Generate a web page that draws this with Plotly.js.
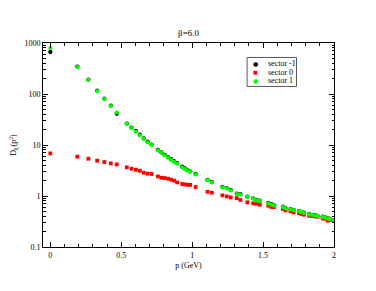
<!DOCTYPE html>
<html>
<head>
<meta charset="utf-8">
<script src="https://cdn.plot.ly/plotly-3.0.1.min.js"></script>
<style>html,body{margin:0;padding:0;background:#fff}#chart{width:376px;height:291px}</style>
</head>
<body>
<div id="chart"></div>
<script>
// momentum values p (GeV)
const p = [0, 0.19, 0.268, 0.33, 0.381, 0.426, 0.468, 0.539, 0.572, 0.603, 0.631, 0.659, 0.686, 0.714,
  0.758, 0.783, 0.806, 0.83, 0.852, 0.872, 0.894, 0.93, 0.948, 0.965, 0.986, 1.024, 1.108, 1.138,
  1.213, 1.244, 1.272, 1.314, 1.34, 1.389, 1.43, 1.453, 1.477, 1.536, 1.559, 1.578, 1.64, 1.658,
  1.693, 1.715, 1.753, 1.771, 1.788, 1.825, 1.847, 1.866, 1.884, 1.92, 1.936, 1.955, 1.972, 2.0];

const sectorM1 = [666, 345, 192, 116, 81, 59, 41, 26.3, 21.9, 18.8, 15.9, 13.5, 11.6, 10.2,
  8.0, 7.2, 6.4, 5.8, 5.25, 4.8, 4.4, 3.75, 3.48, 3.25, 3.05, 2.7, 2.08, 1.88,
  1.5, 1.43, 1.31, 1.11, 1.09, 0.97, 0.9, 0.84, 0.81, 0.73, 0.69, 0.655, 0.62, 0.58,
  0.555, 0.535, 0.505, 0.49, 0.47, 0.44, 0.428, 0.42, 0.408, 0.393, 0.379, 0.366, 0.356, 0.336];

const sector0 = [6.84, 5.9, 5.38, 4.92, 4.64, 4.36, 4.17, 3.64, 3.43, 3.28, 3.13, 2.86, 2.74, 2.70,
  2.42, 2.28, 2.25, 2.18, 2.09, 2.0, 1.85, 1.72, 1.69, 1.66, 1.65, 1.50, 1.21, 1.16,
  1.03, 0.98, 0.94, 0.91, 0.835, 0.75, 0.716, 0.706, 0.675, 0.645, 0.608, 0.608, 0.556, 0.523,
  0.50, 0.478, 0.464, 0.444, 0.43, 0.41, 0.405, 0.398, 0.393, 0.364, 0.359, 0.328, 0.339, 0.328];

const sector1 = [794, 338, 188, 114, 80, 58, 43, 25.8, 21.5, 18.3, 15.5, 13.1, 11.3, 10.0,
  7.8, 7.0, 6.25, 5.65, 5.1, 4.65, 4.3, 3.65, 3.38, 3.18, 2.99, 2.65, 2.04, 1.85,
  1.48, 1.41, 1.29, 1.09, 1.06, 0.955, 0.885, 0.82, 0.80, 0.716, 0.676, 0.645, 0.61, 0.57,
  0.546, 0.53, 0.50, 0.486, 0.464, 0.436, 0.424, 0.417, 0.405, 0.39, 0.376, 0.364, 0.354, 0.333];

const seriesNames = ['sector -1', 'sector 0', 'sector 1'];
const seriesColors = ['#000000', '#ff0000', '#00ff00'];
const seriesSymbols = ['circle', 'square', 'circle'];
const seriesGlyphs = ['\u25CF', '\u25A0', '\u25CF'];
const xTickVals = [0, 0.5, 1, 1.5, 2];
const xTickText = ['0', '0.5', '1', '1.5', '2'];
const yTickVals = [0.1, 1, 10, 100, 1000];
const yTickText = ['0.1', '1', '10', '100', '1000'];

const FONT = 'Liberation Serif, Times New Roman, serif';
const ys = [sectorM1, sector0, sector1];

const traces = ys.map((y, i) => ({
  type: 'scatter', mode: 'markers', x: p, y: y, name: seriesNames[i],
  marker: {color: seriesColors[i], symbol: seriesSymbols[i], size: seriesSymbols[i] === 'square' ? 3.8 : 4.3, line: {width: 0}},
  showlegend: false, hoverinfo: 'skip'
}));
// invisible trace to drive minor log ticks axis
traces.push({type: 'scatter', mode: 'markers', x: [p[0]], y: [sector1[0]], xaxis: 'x', yaxis: 'y2',
  marker: {opacity: 0}, showlegend: false, hoverinfo: 'skip'});

const legRows = [0.8999, 0.8576, 0.815];
const annotations = [];
seriesNames.forEach((n, i) => {
  annotations.push({xref: 'paper', yref: 'paper', x: 0.7315, y: legRows[i], text: seriesGlyphs[i],
    showarrow: false, xanchor: 'center', yanchor: 'middle',
    font: {family: 'DejaVu Sans', size: i === 1 ? 5 : 6, color: seriesColors[i]}});
  annotations.push({xref: 'paper', yref: 'paper', x: 0.7659, y: legRows[i], text: n,
    showarrow: false, xanchor: 'left', yanchor: 'middle',
    font: {family: FONT, size: 8, color: '#000'}});
});

const layout = {
  width: 376, height: 291,
  margin: {l: 43.3, r: 42.3, t: 43.3, b: 44, pad: 0},
  paper_bgcolor: '#fff', plot_bgcolor: '#fff',
  font: {family: FONT, size: 8, color: '#000'},
  title: {text: '\u03B2=6.0', x: 0.5, xref: 'paper', y: 1 - 33/291, yref: 'container', yanchor: 'middle', xanchor: 'center',
    font: {family: FONT, size: 9, color: '#000'}},
  showlegend: false,
  xaxis: {
    range: [-0.052, 2], showgrid: false, zeroline: false,
    showline: true, linecolor: '#000', linewidth: 1, mirror: 'ticks',
    ticks: 'inside', ticklen: 5, tickcolor: '#000', tickwidth: 1,
    tickvals: xTickVals, ticktext: xTickText, tickfont: {family: FONT, size: 8},
    minor: {dtick: 0.1, tick0: 0, ticks: 'inside', ticklen: 3, tickcolor: '#000', showgrid: false},
    title: {text: 'p (GeV)', font: {family: FONT, size: 8}, standoff: 3},
    automargin: false
  },
  yaxis: {
    type: 'log', range: [-1, 3], showgrid: false, zeroline: false,
    showline: true, linecolor: '#000', linewidth: 1, mirror: 'ticks',
    ticks: 'inside', ticklen: 5, tickcolor: '#000', tickwidth: 1,
    tickvals: yTickVals, ticktext: yTickText, tickfont: {family: FONT, size: 8},
    title: {text: 'D<sub>L</sub>(p<sup>2</sup>)', font: {family: FONT, size: 8}, standoff: 6},
    automargin: false
  },
  yaxis2: {
    type: 'log', range: [-1, 3], overlaying: 'y', side: 'left', showgrid: false, zeroline: false,
    showline: false, mirror: 'ticks', ticks: 'inside', ticklen: 2.5, tickcolor: '#000', tickwidth: 1,
    dtick: 'D1', showticklabels: false, automargin: false
  },
  shapes: [{type: 'rect', xref: 'paper', yref: 'paper', x0: 0.7014, x1: 0.8712, y0: 0.787, y1: 0.929,
    line: {color: '#555', width: 1}, fillcolor: '#fff', layer: 'above'}],
  annotations: annotations
};

Plotly.newPlot('chart', traces, layout, {displayModeBar: false, staticPlot: true});
</script>
</body>
</html>
